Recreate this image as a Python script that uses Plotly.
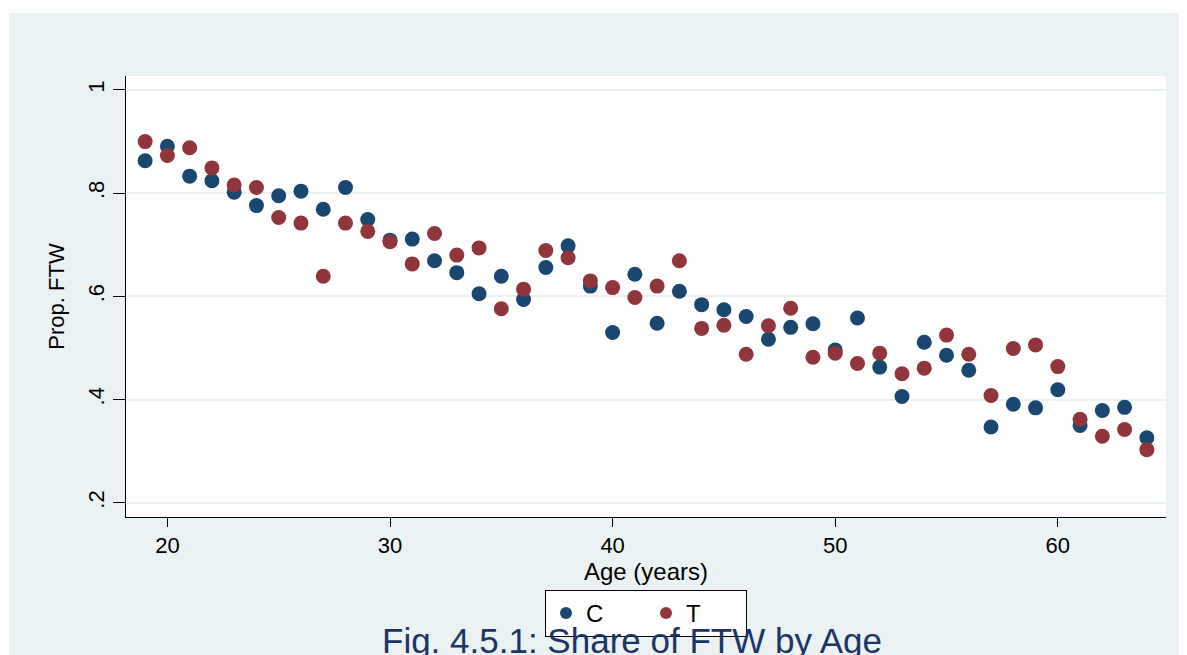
import plotly.graph_objects as go

ages = list(range(19, 65))

prop_c = [0.863, 0.891, 0.833, 0.824, 0.802, 0.776, 0.795, 0.804, 0.769, 0.811,
          0.749, 0.709, 0.711, 0.669, 0.646, 0.605, 0.639, 0.594, 0.656, 0.698,
          0.620, 0.530, 0.643, 0.548, 0.610, 0.584, 0.574, 0.561, 0.517, 0.540,
          0.547, 0.496, 0.558, 0.463, 0.406, 0.511, 0.486, 0.457, 0.347, 0.391,
          0.384, 0.419, 0.350, 0.379, 0.385, 0.326]

prop_t = [0.900, 0.873, 0.888, 0.849, 0.816, 0.811, 0.753, 0.742, 0.639, 0.742,
          0.726, 0.706, 0.663, 0.722, 0.680, 0.694, 0.576, 0.614, 0.689, 0.675,
          0.630, 0.617, 0.598, 0.620, 0.669, 0.538, 0.544, 0.488, 0.543, 0.577,
          0.482, 0.490, 0.470, 0.490, 0.450, 0.461, 0.525, 0.488, 0.408, 0.499,
          0.506, 0.464, 0.362, 0.329, 0.342, 0.303]

y_ticks = [0.2, 0.4, 0.6, 0.8, 1.0]
y_tick_text = [".2", ".4", ".6", ".8", "1"]
x_ticks = [20, 30, 40, 50, 60]

NAVY = "#1A476F"
MAROON = "#90353B"
BG = "#EAF2F3"
FONT = "Liberation Sans, Arial, sans-serif"

fig = go.Figure()
fig.add_trace(go.Scatter(x=ages, y=prop_c, mode="markers", name="C",
                         marker=dict(color=NAVY, size=15, line=dict(width=0))))
fig.add_trace(go.Scatter(x=ages, y=prop_t, mode="markers", name="T",
                         marker=dict(color=MAROON, size=15, line=dict(width=0))))

# page body has an 8px margin; figure coordinates below are relative to the figure
W, H = 1187, 655
L, R, T, B = 118, 29, 68, 146
pw, ph = W - L - R, H - T - B

def px_x(p):
    return (p - L) / pw

def px_y(p):
    return (H - B - p) / ph

fig.update_layout(
    width=W, height=H,
    margin=dict(l=L, r=R, t=T, b=B),
    paper_bgcolor=BG,
    plot_bgcolor="white",
    font=dict(family=FONT, size=22, color="black"),
    showlegend=True,
    legend=dict(orientation="h", x=0.5, xanchor="center",
                y=px_y(582), yanchor="top",
                bgcolor="white", bordercolor="black", borderwidth=1,
                font=dict(size=24), entrywidth=55, itemsizing="constant"),
    xaxis=dict(range=[18.14, 64.86], tickvals=x_ticks, ticks="outside",
               ticklen=9, tickcolor="black", showline=True, linecolor="black",
               linewidth=1, showgrid=False, zeroline=False,
               tickfont=dict(size=22)),
    yaxis=dict(range=[0.1725, 1.0271], tickvals=y_ticks, ticktext=y_tick_text,
               tickangle=-90, ticks="outside", ticklen=12, tickcolor="black",
               showline=True, linecolor="black", linewidth=1,
               showgrid=True, gridcolor=BG, gridwidth=2, zeroline=False,
               tickfont=dict(size=22),
               title=dict(text="Prop. FTW", font=dict(size=22), standoff=13)),
    shapes=[
        dict(type="rect", xref="paper", yref="paper",
             x0=px_x(0), x1=px_x(W), y0=px_y(5), y1=px_y(0),
             fillcolor="white", line=dict(width=0), layer="below"),
        dict(type="rect", xref="paper", yref="paper",
             x0=px_x(0), x1=px_x(1), y0=px_y(H), y1=px_y(0),
             fillcolor="white", line=dict(width=0), layer="below"),
    ],
    annotations=[
        dict(text="Age (years)", xref="paper", yref="paper",
             x=0.5, y=px_y(563), xanchor="center", yanchor="middle",
             showarrow=False, font=dict(size=24, color="black", family=FONT)),
        dict(text="Fig. 4.5.1: Share of FTW by Age", xref="paper", yref="paper",
             x=px_x(624), y=px_y(611), xanchor="center", yanchor="top",
             showarrow=False, font=dict(size=35, color="#1C3564", family=FONT)),
    ],
)

fig.write_html("out.html")
